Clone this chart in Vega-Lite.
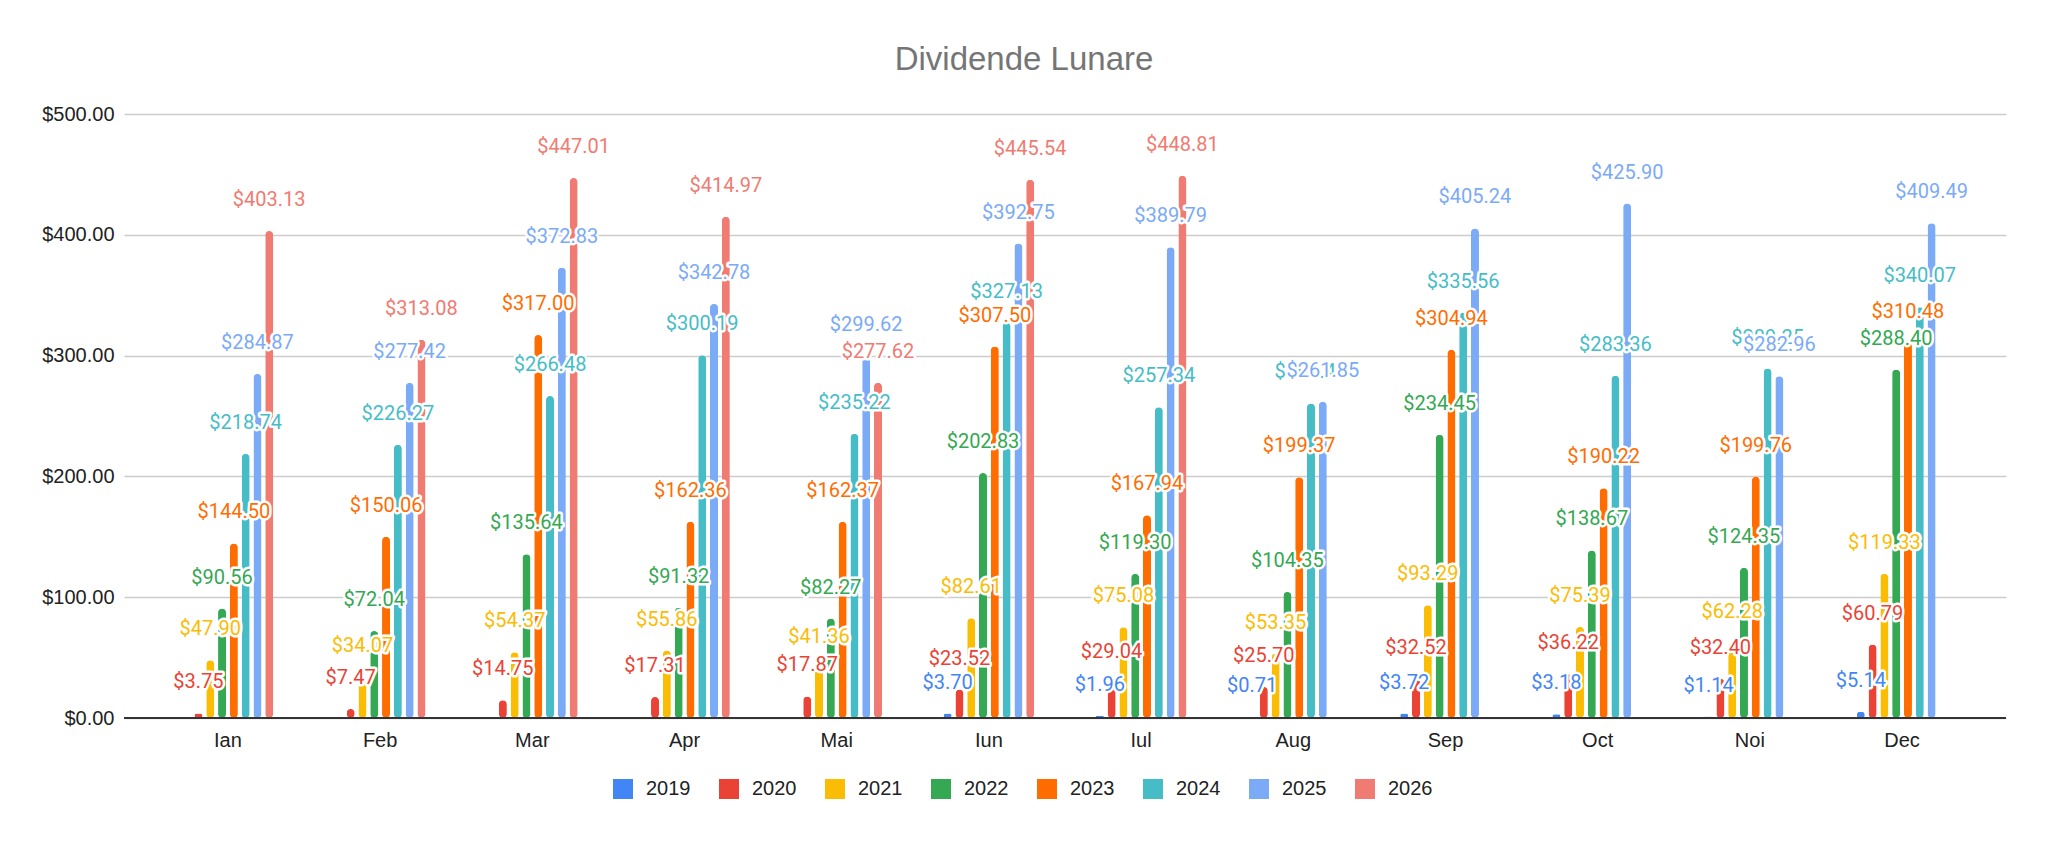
{
  "$schema": "https://vega.github.io/schema/vega-lite/v6.json",
  "autosize": {"type": "none"},
  "width": 1882,
  "height": 604,
  "padding": {"left": 124, "top": 114, "right": 42, "bottom": 123},
  "background": "white",
  "title": {
    "text": "Dividende Lunare",
    "font": "Liberation Sans",
    "fontSize": 33,
    "fontWeight": "normal",
    "color": "#757575",
    "anchor": "middle",
    "frame": "group",
    "baseline": "alphabetic",
    "dx": -41,
    "offset": 1
  },
  "data": {
    "values": [
      {"luna": "Ian", "an": "2020", "valoare": 3.75},
      {"luna": "Ian", "an": "2021", "valoare": 47.90},
      {"luna": "Ian", "an": "2022", "valoare": 90.56},
      {"luna": "Ian", "an": "2023", "valoare": 144.50},
      {"luna": "Ian", "an": "2024", "valoare": 218.74},
      {"luna": "Ian", "an": "2025", "valoare": 284.87},
      {"luna": "Ian", "an": "2026", "valoare": 403.13},
      {"luna": "Feb", "an": "2020", "valoare": 7.47},
      {"luna": "Feb", "an": "2021", "valoare": 34.07},
      {"luna": "Feb", "an": "2022", "valoare": 72.04},
      {"luna": "Feb", "an": "2023", "valoare": 150.06},
      {"luna": "Feb", "an": "2024", "valoare": 226.27},
      {"luna": "Feb", "an": "2025", "valoare": 277.42},
      {"luna": "Feb", "an": "2026", "valoare": 313.08},
      {"luna": "Mar", "an": "2020", "valoare": 14.75},
      {"luna": "Mar", "an": "2021", "valoare": 54.37},
      {"luna": "Mar", "an": "2022", "valoare": 135.64},
      {"luna": "Mar", "an": "2023", "valoare": 317.00},
      {"luna": "Mar", "an": "2024", "valoare": 266.48},
      {"luna": "Mar", "an": "2025", "valoare": 372.83},
      {"luna": "Mar", "an": "2026", "valoare": 447.01},
      {"luna": "Apr", "an": "2020", "valoare": 17.31},
      {"luna": "Apr", "an": "2021", "valoare": 55.86},
      {"luna": "Apr", "an": "2022", "valoare": 91.32},
      {"luna": "Apr", "an": "2023", "valoare": 162.36},
      {"luna": "Apr", "an": "2024", "valoare": 300.19},
      {"luna": "Apr", "an": "2025", "valoare": 342.78},
      {"luna": "Apr", "an": "2026", "valoare": 414.97},
      {"luna": "Mai", "an": "2020", "valoare": 17.87},
      {"luna": "Mai", "an": "2021", "valoare": 41.36},
      {"luna": "Mai", "an": "2022", "valoare": 82.27},
      {"luna": "Mai", "an": "2023", "valoare": 162.37},
      {"luna": "Mai", "an": "2024", "valoare": 235.22},
      {"luna": "Mai", "an": "2025", "valoare": 299.62},
      {"luna": "Mai", "an": "2026", "valoare": 277.62},
      {"luna": "Iun", "an": "2019", "valoare": 3.70},
      {"luna": "Iun", "an": "2020", "valoare": 23.52},
      {"luna": "Iun", "an": "2021", "valoare": 82.61},
      {"luna": "Iun", "an": "2022", "valoare": 202.83},
      {"luna": "Iun", "an": "2023", "valoare": 307.50},
      {"luna": "Iun", "an": "2024", "valoare": 327.13},
      {"luna": "Iun", "an": "2025", "valoare": 392.75},
      {"luna": "Iun", "an": "2026", "valoare": 445.54},
      {"luna": "Iul", "an": "2019", "valoare": 1.96},
      {"luna": "Iul", "an": "2020", "valoare": 29.04},
      {"luna": "Iul", "an": "2021", "valoare": 75.08},
      {"luna": "Iul", "an": "2022", "valoare": 119.30},
      {"luna": "Iul", "an": "2023", "valoare": 167.94},
      {"luna": "Iul", "an": "2024", "valoare": 257.34},
      {"luna": "Iul", "an": "2025", "valoare": 389.79},
      {"luna": "Iul", "an": "2026", "valoare": 448.81},
      {"luna": "Aug", "an": "2019", "valoare": 0.71},
      {"luna": "Aug", "an": "2020", "valoare": 25.70},
      {"luna": "Aug", "an": "2021", "valoare": 53.35},
      {"luna": "Aug", "an": "2022", "valoare": 104.35},
      {"luna": "Aug", "an": "2023", "valoare": 199.37},
      {"luna": "Aug", "an": "2024", "valoare": 260.40},
      {"luna": "Aug", "an": "2025", "valoare": 261.85},
      {"luna": "Sep", "an": "2019", "valoare": 3.72},
      {"luna": "Sep", "an": "2020", "valoare": 32.52},
      {"luna": "Sep", "an": "2021", "valoare": 93.29},
      {"luna": "Sep", "an": "2022", "valoare": 234.45},
      {"luna": "Sep", "an": "2023", "valoare": 304.94},
      {"luna": "Sep", "an": "2024", "valoare": 335.56},
      {"luna": "Sep", "an": "2025", "valoare": 405.24},
      {"luna": "Oct", "an": "2019", "valoare": 3.18},
      {"luna": "Oct", "an": "2020", "valoare": 36.22},
      {"luna": "Oct", "an": "2021", "valoare": 75.39},
      {"luna": "Oct", "an": "2022", "valoare": 138.67},
      {"luna": "Oct", "an": "2023", "valoare": 190.22},
      {"luna": "Oct", "an": "2024", "valoare": 283.36},
      {"luna": "Oct", "an": "2025", "valoare": 425.90},
      {"luna": "Noi", "an": "2019", "valoare": 1.14},
      {"luna": "Noi", "an": "2020", "valoare": 32.40},
      {"luna": "Noi", "an": "2021", "valoare": 62.28},
      {"luna": "Noi", "an": "2022", "valoare": 124.35},
      {"luna": "Noi", "an": "2023", "valoare": 199.76},
      {"luna": "Noi", "an": "2024", "valoare": 289.25},
      {"luna": "Noi", "an": "2025", "valoare": 282.96},
      {"luna": "Dec", "an": "2019", "valoare": 5.14},
      {"luna": "Dec", "an": "2020", "valoare": 60.79},
      {"luna": "Dec", "an": "2021", "valoare": 119.33},
      {"luna": "Dec", "an": "2022", "valoare": 288.40},
      {"luna": "Dec", "an": "2023", "valoare": 310.48},
      {"luna": "Dec", "an": "2024", "valoare": 340.07},
      {"luna": "Dec", "an": "2025", "valoare": 409.49}
    ]
  },
  "encoding": {
    "x": {
      "field": "luna",
      "type": "nominal",
      "sort": null,
      "scale": {"domain": ["Ian","Feb","Mar","Apr","Mai","Iun","Iul","Aug","Sep","Oct","Noi","Dec"], "paddingInner": 0.38, "paddingOuter": 0.373},
      "axis": {
        "title": null,
        "labelAngle": 0,
        "labelFont": "Liberation Sans",
        "labelFontSize": 20,
        "labelColor": "#222222",
        "labelPadding": 12,
        "ticks": false,
        "domain": false,
        "grid": false
      }
    },
    "xOffset": {
      "field": "an",
      "type": "nominal",
      "scale": {"domain": ["2019","2020","2021","2022","2023","2024","2025","2026"], "paddingInner": 0.32, "paddingOuter": 0.16}
    },
    "y": {
      "field": "valoare",
      "type": "quantitative",
      "scale": {"domain": [0, 500], "nice": false},
      "axis": {
        "title": null,
        "values": [0, 100, 200, 300, 400, 500],
        "format": "$,.2f",
        "labelFont": "Liberation Sans",
        "labelFontSize": 20,
        "labelColor": "#222222",
        "labelPadding": 10,
        "ticks": false,
        "domain": false,
        "gridColor": "#cccccc",
        "gridWidth": 1.3
      }
    }
  },
  "layer": [
    {
      "mark": {"type": "bar", "cornerRadius": 4},
      "encoding": {
        "color": {
          "field": "an",
          "type": "nominal",
          "scale": {
            "domain": ["2019","2020","2021","2022","2023","2024","2025","2026"],
            "range": ["#4285F4","#EA4335","#FBBC04","#34A853","#FF6D01","#46BDC6","#7BAAF7","#F07B72"]
          },
          "legend": {
            "title": null,
            "orient": "none",
            "direction": "horizontal",
            "legendX": 489,
            "legendY": 665,
            "symbolType": "square",
            "symbolSize": 400,
            "symbolStrokeWidth": 0,
            "labelFont": "Liberation Sans",
            "labelFontSize": 20,
            "labelColor": "#222222",
            "labelOffset": 13,
            "columnPadding": 28
          }
        }
      }
    },
    {
      "mark": {"type": "rule", "color": "#333333", "strokeWidth": 2},
      "encoding": {"y": {"datum": 0}, "x": {"value": 0}, "x2": {"value": 1882}, "xOffset": null}
    },
    {
      "transform": [{"filter": "datum.an < '2025'"}],
      "mark": {"type": "text", "font": "Roboto", "fontSize": 20, "baseline": "alphabetic", "dy": -25, "stroke": "white", "strokeWidth": 5, "strokeJoin": "round", "fill": "white"},
      "encoding": {
        "text": {"field": "valoare", "type": "quantitative", "format": "$,.2f"}
      }
    },
    {
      "transform": [{"filter": "datum.an < '2025'"}],
      "mark": {"type": "text", "font": "Roboto", "fontSize": 20, "baseline": "alphabetic", "dy": -25},
      "encoding": {
        "text": {"field": "valoare", "type": "quantitative", "format": "$,.2f"},
        "color": {"field": "an", "type": "nominal"}
      }
    },
    {
      "transform": [{"filter": "datum.an == '2025'"}],
      "mark": {"type": "text", "font": "Roboto", "fontSize": 20, "baseline": "alphabetic", "dy": -25, "stroke": "white", "strokeWidth": 5, "strokeJoin": "round", "fill": "white"},
      "encoding": {
        "text": {"field": "valoare", "type": "quantitative", "format": "$,.2f"}
      }
    },
    {
      "transform": [{"filter": "datum.an == '2025'"}],
      "mark": {"type": "text", "font": "Roboto", "fontSize": 20, "baseline": "alphabetic", "dy": -25},
      "encoding": {
        "text": {"field": "valoare", "type": "quantitative", "format": "$,.2f"},
        "color": {"field": "an", "type": "nominal"}
      }
    },
    {
      "transform": [{"filter": "datum.an == '2026'"}],
      "mark": {"type": "text", "font": "Roboto", "fontSize": 20, "baseline": "alphabetic", "dy": -25, "stroke": "white", "strokeWidth": 5, "strokeJoin": "round", "fill": "white"},
      "encoding": {
        "text": {"field": "valoare", "type": "quantitative", "format": "$,.2f"}
      }
    },
    {
      "transform": [{"filter": "datum.an == '2026'"}],
      "mark": {"type": "text", "font": "Roboto", "fontSize": 20, "baseline": "alphabetic", "dy": -25},
      "encoding": {
        "text": {"field": "valoare", "type": "quantitative", "format": "$,.2f"},
        "color": {"field": "an", "type": "nominal"}
      }
    }
  ],
  "config": {
    "view": {"stroke": null}
  }
}
